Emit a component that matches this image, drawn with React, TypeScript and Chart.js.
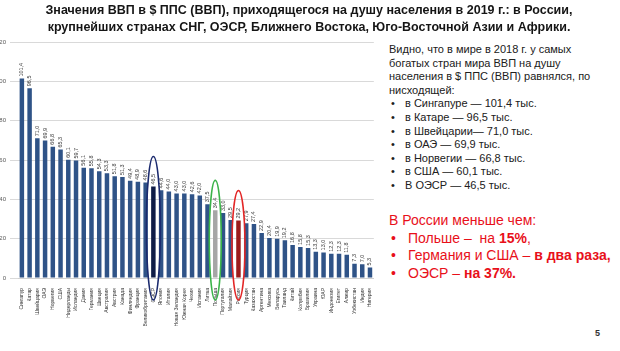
import React, { useEffect, useRef } from "react";
import { Chart, registerables } from "chart.js";
Chart.register(...registerables);

const countries: string[] = [
  "Сингапур", "Катар", "Швейцария", "ОАЭ", "Норвегия", "США", "Нидерланды", "Исландия",
  "Дания", "Германия", "Швеция", "Австралия", "Австрия", "Канада", "Финляндия", "Франция",
  "Великобритания", "ОЭСР", "Япония", "Италия", "Новая Зеландия", "Южная Корея", "Чехия",
  "Испания", "Литва", "Польша", "Португалия", "Малайзия", "Россия", "Турция", "Казахстан",
  "Аргентина", "Мексика", "Беларусь", "Таиланд", "Китай", "Колумбия", "Бразилия", "Украина",
  "ЮАР", "Индонезия", "Египет", "Алжир", "Узбекистан", "Индия", "Нигерия",
];

const values: number[] = [
  101.4, 96.5, 71.0, 69.9, 66.8, 65.3, 60.1, 59.7,
  56.1, 55.8, 54.3, 53.3, 51.8, 51.3, 49.4, 48.9,
  48.6, 46.5, 44.6, 44.0, 43.0, 43.0, 42.6,
  42.0, 37.5, 34.4, 33.0, 29.5, 29.2, 27.9, 27.4,
  22.9, 20.4, 19.9, 19.2, 16.8, 15.8, 15.3, 13.3,
  13.0, 12.3, 12.3, 11.8, 7.3, 7.0, 5.3,
];

const yMin = 0;
const yMax = 120;
const yStep = 20;

const highlightColors: Record<string, string> = {
  "ОЭСР": "#0f1c47",
  "Польша": "#a6a6a6",
  "Россия": "#9c1c1c",
};
const baseBarColor = "#2f5387";

const ellipseMarks = [
  { name: "ОЭСР", color: "#1b2a6e", rx: 7 },
  { name: "Польша", color: "#3bb34a", rx: 6 },
  { name: "Россия", color: "#e32626", rx: 6.5 },
];

const infoLines: string[] = [
  "Видно, что в мире в 2018 г. у самых",
  "богатых стран мира ВВП на душу",
  "населения в $ ППС (ВВП) равнялся, по",
  "нисходящей:",
];
const infoBullets: string[] = [
  "в Сингапуре — 101,4 тыс.",
  "в Катаре — 96,5 тыс.",
  "в Швейцарии— 71,0 тыс.",
  "в ОАЭ — 69,9 тыс.",
  "в Норвегии — 66,8 тыс.",
  "в США — 60,1 тыс.",
  "В ОЭСР — 46,5 тыс.",
];

const fmt = (v: number) => v.toFixed(1).replace(".", ",");

const barLabelPlugin = {
  id: "barLabels",
  afterDatasetsDraw(chart: any) {
    const ctx = chart.ctx;
    const meta = chart.getDatasetMeta(0);
    ctx.save();
    ctx.font = "5.5px 'Liberation Sans', Arial, sans-serif";
    ctx.fillStyle = "#3a3a3a";
    ctx.textAlign = "left";
    ctx.textBaseline = "middle";
    meta.data.forEach((bar: any, i: number) => {
      const { x, y } = bar.getProps(["x", "y"], true);
      ctx.save();
      ctx.translate(x, y - 2);
      ctx.rotate(-Math.PI / 2);
      ctx.fillText(fmt(values[i]), 0, 0);
      ctx.restore();
    });
    ctx.restore();
  },
};

const ellipsePlugin = {
  id: "ellipses",
  afterDraw(chart: any) {
    const ctx = chart.ctx;
    const xs = chart.scales.x;
    const ys = chart.scales.y;
    ctx.save();
    ctx.lineWidth = 1.6;
    ellipseMarks.forEach((e) => {
      const i = countries.indexOf(e.name);
      if (i < 0) return;
      const cx = xs.getPixelForValue(i);
      const top = ys.getPixelForValue(values[i]) - 30;
      const bottom = chart.chartArea.bottom + 22;
      ctx.strokeStyle = e.color;
      ctx.beginPath();
      ctx.ellipse(cx, (top + bottom) / 2, e.rx, (bottom - top) / 2, 0, 0, Math.PI * 2);
      ctx.stroke();
    });
    ctx.restore();
  },
};

function BarChart() {
  const ref = useRef<HTMLCanvasElement | null>(null);
  useEffect(() => {
    if (!ref.current) return;
    const chart = new Chart(ref.current, {
      type: "bar",
      data: {
        labels: countries,
        datasets: [
          {
            data: values,
            backgroundColor: countries.map((c) => highlightColors[c] || baseBarColor),
            borderWidth: 0,
            barPercentage: 0.58,
            categoryPercentage: 1,
          },
        ],
      },
      options: {
        responsive: false,
        animation: false,
        devicePixelRatio: 1,
        layout: { padding: { top: 42, right: 2, left: 0, bottom: 0 } },
        plugins: { legend: { display: false }, tooltip: { enabled: false }, title: { display: false } },
        scales: {
          x: {
            grid: { display: false },
            border: { color: "#d0d0d0" },
            ticks: {
              autoSkip: false,
              minRotation: 90,
              maxRotation: 90,
              padding: 2,
              color: "#333333",
              font: { size: 5, family: "'Liberation Sans', Arial, sans-serif" },
            },
            afterFit: (scale: any) => {
              scale.height = 73;
            },
          },
          y: {
            min: yMin,
            max: yMax,
            grid: { color: "#d9d9d9", lineWidth: 1 },
            border: { display: false },
            ticks: {
              stepSize: yStep,
              padding: 4,
              color: "#595959",
              font: { size: 6, family: "'Liberation Sans', Arial, sans-serif" },
            },
            afterFit: (scale: any) => {
              scale.width = 18;
            },
          },
        },
      },
      plugins: [barLabelPlugin, ellipsePlugin],
    });
    return () => chart.destroy();
  }, []);
  return (
    <canvas
      ref={ref}
      width={378}
      height={351}
      style={{ position: "absolute", left: 0, top: 0, width: 378, height: 351 }}
    />
  );
}

export default function App() {
  const font = "'Liberation Sans', Arial, sans-serif";
  return (
    <div
      style={{
        position: "fixed",
        left: 0,
        top: 0,
        width: 620,
        height: 351,
        background: "#ffffff",
        overflow: "hidden",
        fontFamily: font,
      }}
    >
      <BarChart />
      <div
        style={{
          position: "absolute",
          left: 0,
          top: 2,
          width: 618,
          textAlign: "center",
          fontWeight: "bold",
          fontSize: 12.5,
          lineHeight: "17px",
          color: "#151515",
        }}
      >
        <div>Значения ВВП в $ ППС (ВВП), приходящегося на душу населения в 2019 г.: в России,</div>
        <div>крупнейших странах СНГ, ОЭСР, Ближнего Востока, Юго-Восточной Азии и Африки.</div>
      </div>
      <div
        style={{
          position: "absolute",
          left: 389,
          top: 43,
          fontSize: 11,
          lineHeight: "13.6px",
          color: "#202020",
          whiteSpace: "nowrap",
        }}
      >
        {infoLines.map((l, i) => (
          <div key={"l" + i}>{l}</div>
        ))}
        {infoBullets.map((b, i) => (
          <div key={"b" + i} style={{ position: "relative", paddingLeft: 16 }}>
            <span style={{ position: "absolute", left: 2 }}>•</span>
            {b}
          </div>
        ))}
      </div>
      <div
        style={{
          position: "absolute",
          left: 389,
          top: 212,
          fontSize: 14,
          lineHeight: "17.5px",
          color: "#e8101a",
          whiteSpace: "nowrap",
        }}
      >
        <div>В России меньше чем:</div>
        <div style={{ position: "relative", paddingLeft: 19 }}>
          <span style={{ position: "absolute", left: 2 }}>•</span>
          Польше –&nbsp; на <b>15%</b>,
        </div>
        <div style={{ position: "relative", paddingLeft: 19 }}>
          <span style={{ position: "absolute", left: 2 }}>•</span>
          Германия и США – <b>в два раза,</b>
        </div>
        <div style={{ position: "relative", paddingLeft: 19 }}>
          <span style={{ position: "absolute", left: 2 }}>•</span>
          ОЭСР – <b>на 37%.</b>
        </div>
      </div>
      <div
        style={{
          position: "absolute",
          left: 595,
          top: 328,
          fontSize: 9,
          fontWeight: "bold",
          color: "#333",
        }}
      >
        5
      </div>
    </div>
  );
}
